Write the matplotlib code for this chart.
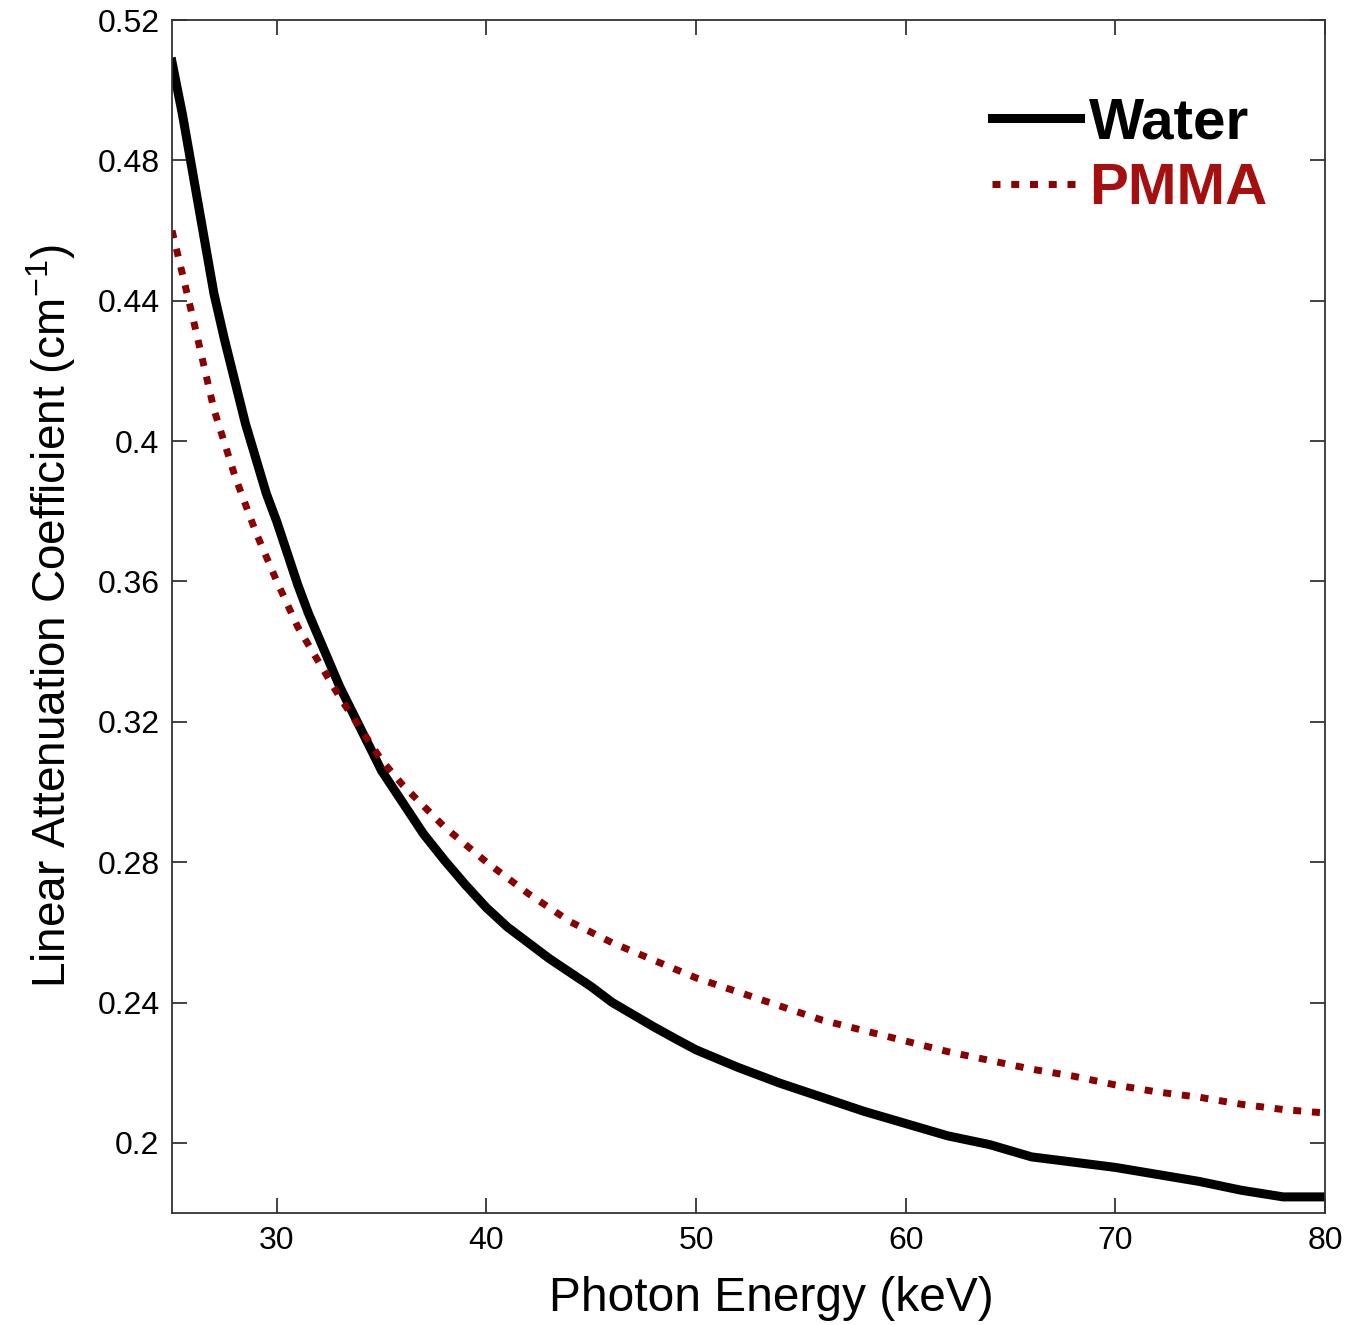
import numpy as np
import matplotlib
matplotlib.use("Agg")
import matplotlib.pyplot as plt

plt.rcParams['font.family'] = ['Liberation Sans', 'DejaVu Sans']
plt.rcParams['mathtext.default'] = 'regular'

# linear attenuation coefficient vs photon energy
water_kev = [25, 25.5, 26, 26.5, 27, 27.5, 28, 28.5, 29, 29.5, 30, 30.5, 31,
             31.5, 32, 33, 34, 35, 36, 37, 38, 39, 40, 41, 42, 43, 44, 45,
             46, 47, 48, 49, 50, 52, 54, 56, 58, 60, 62, 64, 66, 68, 70, 72,
             74, 76, 78, 80]
water_mu = [0.508, 0.493, 0.476, 0.459, 0.442, 0.429, 0.417, 0.405, 0.395,
            0.385, 0.377, 0.368, 0.359, 0.351, 0.344, 0.330, 0.318, 0.306,
            0.297, 0.288, 0.2805, 0.2735, 0.267, 0.2615, 0.257, 0.2525,
            0.2485, 0.2445, 0.240, 0.2365, 0.233, 0.2297, 0.2265, 0.2215,
            0.217, 0.213, 0.209, 0.2055, 0.202, 0.1995, 0.196, 0.1945, 0.193,
            0.191, 0.189, 0.1865, 0.1846, 0.1846]

pmma_kev = [25, 26, 27, 28, 29, 30, 31, 32, 33, 34, 35, 36, 37, 38, 39, 40,
            42, 44, 46, 48, 50, 52, 54, 56, 58, 60, 62, 64, 66, 68, 70, 72,
            74, 76, 78, 80]
pmma_mu = [0.460, 0.435, 0.409, 0.390, 0.374, 0.360, 0.347, 0.337, 0.327,
           0.318, 0.309, 0.302, 0.296, 0.290, 0.285, 0.280, 0.271, 0.263,
           0.257, 0.252, 0.247, 0.243, 0.239, 0.235, 0.232, 0.229, 0.226,
           0.2235, 0.221, 0.219, 0.2165, 0.2145, 0.213, 0.211, 0.2095, 0.2085]

xticks = [30, 40, 50, 60, 70, 80]
yticks = [0.2, 0.24, 0.28, 0.32, 0.36, 0.4, 0.44, 0.48, 0.52]
ytick_labels = ['0.2', '0.24', '0.28', '0.32', '0.36', '0.4', '0.44', '0.48', '0.52']

fig = plt.figure(figsize=(13.61, 13.25), dpi=100)
ax = fig.add_axes([0.1264, 0.0845, 0.8472, 0.9004])

ax.plot(water_kev, water_mu, color='black', lw=6.5, label='Water')
ax.plot(pmma_kev, pmma_mu, color='#8b0000', lw=5, dashes=(1.15, 1.55),
        dash_capstyle='butt', label='PMMA')

ax.set_xlim(25, 80)
ax.set_ylim(0.18, 0.52)
ax.set_xticks(xticks)
ax.set_yticks(yticks)
ax.set_yticklabels(ytick_labels)
ax.tick_params(direction='in', length=11, width=1.2, top=True, right=True,
               labelsize=23, pad=9, colors='#222222', labelcolor='black')
for s in ax.spines.values():
    s.set_linewidth(1.3)
    s.set_color('#333333')

ax.set_xlabel('Photon Energy (keV)', fontsize=34.5, labelpad=15, x=0.52)
ax.set_ylabel('Linear Attenuation Coefficient (cm$^{-1}$)', fontsize=33, labelpad=14)

leg = ax.legend(loc='upper right', frameon=False,
                prop={'weight': 'bold', 'size': 42},
                handlelength=1.5, handletextpad=0.15, labelspacing=0.2,
                borderaxespad=0.3, bbox_to_anchor=(0.985, 0.97),
                labelcolor=['black', '#a50f0f'])

fig.savefig('out.png', dpi=100)
